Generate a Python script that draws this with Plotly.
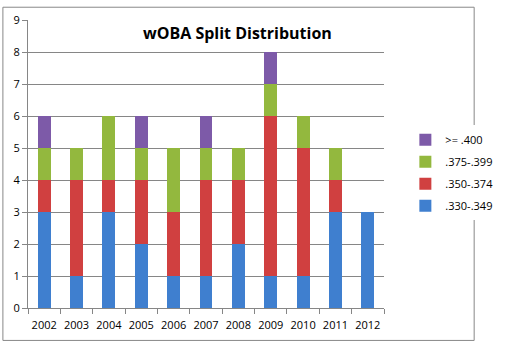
import plotly.graph_objects as go

years = ["2002", "2003", "2004", "2005", "2006", "2007", "2008", "2009", "2010", "2011", "2012"]
s_330 = [3, 1, 3, 2, 1, 1, 2, 1, 1, 3, 3]
s_350 = [1, 3, 1, 2, 2, 3, 2, 5, 4, 1, 0]
s_375 = [1, 1, 2, 1, 2, 1, 1, 1, 1, 1, 0]
s_400 = [1, 0, 0, 1, 0, 1, 0, 1, 0, 0, 0]

series = [
    (".330-.349", s_330, "#3f7fcf"),
    (".350-.374", s_350, "#d04040"),
    (".375-.399", s_375, "#93b83e"),
    (">= .400", s_400, "#7d5aa8"),
]

fig = go.Figure()
for i, (name, vals, color) in enumerate(series):
    fig.add_trace(go.Bar(
        x=years, y=vals, name=name, legendgroup=str(i),
        legendrank=1000 - i,
        marker=dict(color=color, line=dict(width=0)),
    ))

L, R, T, B = 28, 411, 15, 308
W, H = 510, 344

def px(x):
    return (x - L) / (R - L)

def py(y):
    return (B - y) / (B - T)

fig.update_layout(
    width=W, height=H,
    margin=dict(l=L, r=W - R, t=T, b=H - B),
    barmode="stack", bargap=0.6,
    plot_bgcolor="white", paper_bgcolor="white",
    font=dict(family="Open Sans, Lato, sans-serif", size=11, color="#000"),
    showlegend=True,
    legend=dict(
        x=1.06, y=0.47, xanchor="left", yanchor="middle",
        traceorder="grouped", tracegroupgap=3,
        font=dict(size=11), itemwidth=30,
    ),
    xaxis=dict(
        type="category", showgrid=False, showline=True, linecolor="#868686",
        ticks="outside", tickson="boundaries", ticklen=5, tickcolor="#868686",
        tickfont=dict(size=11), tickangle=0, ticklabelstandoff=7,
    ),
    yaxis=dict(
        range=[0, 9], dtick=1, showgrid=True, gridcolor="#868686", gridwidth=1,
        showline=True, linecolor="#868686", ticks="outside", ticklen=5,
        tickcolor="#868686", zeroline=False, tickfont=dict(size=11),
    ),
    annotations=[dict(
        text="<b>wOBA Split Distribution</b>", xref="paper", yref="paper",
        x=px(253), y=py(28), xanchor="center", yanchor="middle",
        showarrow=False, font=dict(size=16, family="Open Sans, Lato, sans-serif"),
    )],
    shapes=[dict(
        type="rect", xref="paper", yref="paper",
        x0=px(1), x1=px(508), y0=py(341), y1=py(2),
        line=dict(color="#888888", width=1), fillcolor="rgba(0,0,0,0)",
    )],
)

fig.write_html("out.html")
